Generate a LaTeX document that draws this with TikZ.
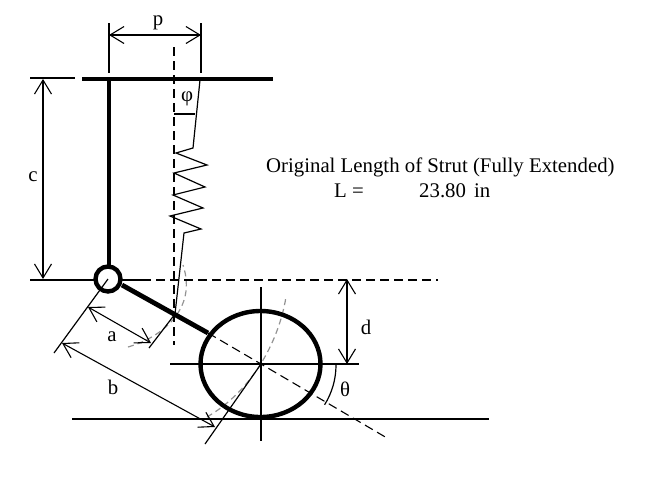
\documentclass[tikz,border=0pt]{standalone}
\usepackage{fontspec}
\setmainfont{Liberation Serif}
\usetikzlibrary{arrows.meta}
\tikzset{
  thin line/.style={line width=1.2pt,black},
  mid line/.style={line width=1.8pt,black},
  thick bar/.style={line width=4.8pt,black},
  ring/.style={line width=4.4pt,black},
  dash line/.style={line width=1.1pt,black,dash pattern=on 9pt off 5pt},
  gray arc/.style={line width=1.2pt,gray!85,dash pattern=on 6pt off 4pt},
  dim/.style={line width=1.1pt,black,{Straight Barb[length=14pt,width=17pt]}-{Straight Barb[length=14pt,width=17pt]}},
  lab/.style={font=\fontsize{20.8}{24}\selectfont,inner sep=0pt},
  txt/.style={font=\fontsize{20.8}{24}\selectfont,inner sep=0pt,anchor=base west},
}
\begin{document}
\begin{tikzpicture}[x=1pt,y=-1pt]
\useasboundingbox (0,0) rectangle (655,477);
\coordinate (pivot) at (108,279);
\coordinate (hub) at (261,364);
\coordinate (spr) at (175,314);
\coordinate (tick) at (205,444);
% gray arcs
\draw[gray arc] (128,347) .. controls (160,338) and (198,310) .. (183,265);
\draw[gray arc] (207,417) .. controls (250,392) and (278,345) .. (286,297);
% dashed lines
\draw[dash line] (174,47) -- (174,345);
\draw[dash line] (142,280) -- (438,280);
\draw[dash line] (208,333) -- (hub) -- (387,438);
% top bars
\draw[thin line] (30,78) -- (75,78);
\draw[thick bar] (82,79) -- (273,79);
\draw[thick bar] (109,79) -- (109,266);
% p dimension
\draw[thin line] (109,23) -- (109,73);
\draw[thin line] (201,23) -- (201,73);
\draw[dim] (109,35) -- (201,35);
\node[lab] at (158,23) {p};
% c dimension
\draw[dim] (43,79) -- (43,279);
\node[lab] at (33,177) {c};
% spring
\draw[thin line,line join=miter] (200,80) -- (193,148) -- (176,153) -- (207,165) -- (174,173) -- (205,187) -- (173,195) -- (203,208) -- (170,216) -- (201,229) -- (184,233) -- (spr);
% phi
\draw[thin line] (174,114) -- (195,114);
\node[lab] at (187,99) {φ};
% pivot
\draw[mid line] (30,280) -- (142,280);
\draw[ring,fill=white] (pivot) circle (12.5);
\draw[thick bar] (122,285) -- (208,333);
% wheel
\draw[ring] (260.5,364) ellipse (60 and 53);
\draw[mid line] (170,364) -- (359,364);
\draw[mid line] (261,287) -- (261,441);
\draw[mid line] (72,419) -- (489,419);
% perpendicular ticks
\draw[thin line] (pivot) -- (54,353);
\draw[thin line] (spr) -- (149,348);
\draw[thin line] (hub) -- (tick);
% a, b
\draw[dim] (88,307) -- (151,343);
\node[lab] at (112,337) {a};
\draw[dim] (62,343) -- (215,427);
\node[lab] at (113,387) {b};
% d
\draw[dim] (347,279) -- (347,364);
\node[lab] at (366,327) {d};
% theta
\draw[thin line] (336,365) arc[start angle=0,end angle=32,radius=75];
\node[lab] at (345,389) {θ};
% text
\node[txt] at (266,172) {Original Length of Strut (Fully Extended)};
\node[txt] at (334,197) {L =};
\node[txt] at (419,197) {23.80};
\node[txt] at (474,197) {in};
\end{tikzpicture}
\end{document}
